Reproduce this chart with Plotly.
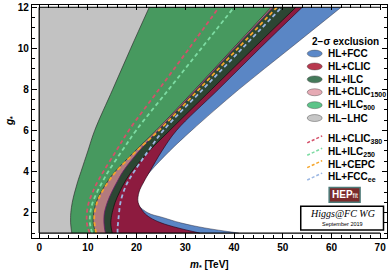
import plotly.graph_objects as go

# ---------------- data ----------------
g_star = [1.0, 1.25, 1.5, 1.75, 2.0, 2.5, 3.0, 3.5, 4.0, 5.0, 6.0, 8.0, 10.0, 12.0]

m_hl_fcc = [41.0, 34.0, 29.0, 25.5, 22.2, 20.0, 20.2, 21.2, 22.8, 26.8, 31.3, 41.0, 51.5, 62.0]
m_hl_clic = [33.0, 28.5, 25.0, 22.8, 21.5, 20.3, 20.5, 21.5, 22.7, 25.2, 28.2, 36.8, 45.3, 54.0]
m_hl_ilc = [15.0, 14.8, 14.7, 14.8, 15.0, 15.6, 16.5, 17.6, 19.0, 22.6, 26.8, 35.4, 44.0, 52.7]
m_hl_clic1500 = [13.6, 13.4, 13.3, 13.3, 13.4, 14.0, 14.9, 16.0, 17.2, 20.5, 24.4, 32.3, 40.1, 48.0]
m_hl_ilc500 = [11.6, 11.3, 11.1, 11.1, 11.2, 11.7, 12.7, 14.0, 15.6, 19.7, 24.0, 32.0, 39.8, 47.6]
m_hl_lhc = [6.7, 6.55, 6.45, 6.45, 6.5, 6.8, 7.3, 7.9, 8.6, 10.0, 11.4, 15.1, 18.8, 22.6]

m_hl_clic380 = [10.4, 10.0, 9.8, 9.75, 9.8, 10.2, 11.0, 12.0, 13.2, 15.8, 18.4, 24.6, 30.8, 36.9]
m_hl_ilc250 = [10.9, 10.6, 10.4, 10.4, 10.5, 11.0, 11.9, 13.0, 14.2, 17.0, 19.9, 26.6, 33.3, 40.0]
m_hl_cepc = [11.7, 11.5, 11.35, 11.3, 11.4, 11.9, 12.9, 14.2, 15.8, 20.0, 24.6, 32.8, 40.8, 48.8]
m_hl_fccee = [16.1, 16.1, 16.2, 16.3, 16.4, 16.7, 17.3, 18.2, 19.5, 22.4, 25.5, 33.6, 41.7, 49.8]

region_names = ["HL+FCC", "HL+CLIC", "HL+ILC", "HL+CLIC<sub>1500</sub>", "HL+ILC<sub>500</sub>", "HL\u2212LHC"]
line_names = ["HL+CLIC<sub>380</sub>", "HL+ILC<sub>250</sub>", "HL+CEPC", "HL+FCC<sub>ee</sub>"]

x_ticks = [0, 10, 20, 30, 40, 50, 60, 70]
y_ticks = [2, 4, 6, 8, 10, 12]

# ---------------- styles ----------------
region_series = [m_hl_fcc, m_hl_clic, m_hl_ilc, m_hl_clic1500, m_hl_ilc500, m_hl_lhc]
region_fill = ["#5a86c5", "#8d1b3f", "#2c4633", "#b37a7e", "#47995f", "#c2c2c2"]
region_edge = ["rgba(40,40,60,0.6)", "rgba(40,0,20,0.8)", "rgba(10,20,10,0.9)",
               "#6b1d6b", "rgba(20,40,25,0.8)", "rgba(40,40,40,0.8)"]
legend_fill = ["#5b88c8", "#b8394f", "#447a5a", "#e6aab4", "#5cc489", "#c6c6c6"]

line_series = [m_hl_clic380, m_hl_ilc250, m_hl_cepc, m_hl_fccee]
line_colors = ["#d4506a", "#7ddca3", "#f5a52a", "#9bb7e3"]

L, T, W, H = 32, 3, 356, 235
FIG_W, FIG_H = 390, 272


def pxx(x):
    return (x - L) / W


def pxy(y):
    return (T + H - y) / H


fig = go.Figure()

for m, fc, ec, name in zip(region_series, region_fill, region_edge, region_names):
    fig.add_trace(go.Scatter(
        x=m, y=g_star, mode="lines", fill="tozerox", fillcolor=fc,
        line=dict(color=ec, width=0.8, shape="spline"),
        name=name, showlegend=False, hoverinfo="skip"))

for m, c, name in zip(line_series, line_colors, line_names):
    fig.add_trace(go.Scatter(
        x=m, y=g_star, mode="lines",
        line=dict(color=c, width=1.8, dash="4px,3px", shape="spline"),
        name=name, showlegend=False, hoverinfo="skip"))

# inner plot-range boundary lines
for (x0, y0, x1, y1) in [(0, 1, 0, 12), (0, 1, 70, 1), (0, 12, 70, 12)]:
    fig.add_shape(type="line", x0=x0, y0=y0, x1=x1, y1=y1, xref="x", yref="y",
                  line=dict(color="black", width=1.2), layer="above")

shapes = []
annotations = []

bold_font = dict(family="Liberation Sans", size=10, color="black", weight="bold")

# legend header
annotations.append(dict(x=pxx(346), y=pxy(40), xref="paper", yref="paper",
                        text="2\u2212\u03c3 exclusion", showarrow=False,
                        xanchor="center", yanchor="middle", font=bold_font))

region_y = [52, 65, 78, 91, 104, 117]
for yy, fc, name in zip(region_y, legend_fill, region_names):
    shapes.append(dict(type="circle", xref="paper", yref="paper",
                       x0=pxx(308), x1=pxx(323), y0=pxy(yy + 3.5), y1=pxy(yy - 3.5),
                       fillcolor=fc, line=dict(color="rgba(60,60,60,0.7)", width=0.6)))
    annotations.append(dict(x=pxx(327), y=pxy(yy), xref="paper", yref="paper",
                            text=name, showarrow=False, xanchor="left", yanchor="middle",
                            font=bold_font))

line_y = [138.5, 151, 163.5, 176]
for yy, c, name in zip(line_y, line_colors, line_names):
    shapes.append(dict(type="line", xref="paper", yref="paper",
                       x0=pxx(308), x1=pxx(323), y0=pxy(yy + 3.5), y1=pxy(yy - 3.5),
                       line=dict(color=c, width=1.5, dash="3px,2px")))
    annotations.append(dict(x=pxx(327), y=pxy(yy), xref="paper", yref="paper",
                            text=name, showarrow=False, xanchor="left", yanchor="middle",
                            font=bold_font))

# HEPfit logo
shapes.append(dict(type="rect", xref="paper", yref="paper",
                   x0=pxx(330), x1=pxx(361), y0=pxy(202), y1=pxy(187),
                   fillcolor="#7a2b2b", line=dict(color="#4d7a78", width=1.5)))
annotations.append(dict(x=pxx(345.5), y=pxy(194.5), xref="paper", yref="paper",
                        text="<b>HEP</b><span style='font-size:7px'>fit</span>",
                        showarrow=False, xanchor="center", yanchor="middle",
                        font=dict(family="Liberation Sans", size=10, color="white")))

# Higgs@FC WG box
shapes.append(dict(type="rect", xref="paper", yref="paper",
                   x0=pxx(301.5), x1=pxx(384.5), y0=pxy(230), y1=pxy(206),
                   fillcolor="white", line=dict(color="black", width=1.5)))
annotations.append(dict(x=pxx(343), y=pxy(213.5), xref="paper", yref="paper",
                        text="<i>Higgs@FC WG</i>", showarrow=False,
                        xanchor="center", yanchor="middle",
                        font=dict(family="Liberation Serif", size=10, color="black")))
annotations.append(dict(x=pxx(343), y=pxy(224), xref="paper", yref="paper",
                        text="September 2019", showarrow=False,
                        xanchor="center", yanchor="middle",
                        font=dict(family="Liberation Sans", size=5.5, color="black")))

# axis titles
annotations.append(dict(x=pxx(210), y=pxy(265), xref="paper", yref="paper",
                        text="<i>m</i><sub>*</sub> [TeV]", showarrow=False,
                        xanchor="center", yanchor="middle", font=bold_font))
annotations.append(dict(x=pxx(10), y=pxy(120), xref="paper", yref="paper",
                        text="<i>g</i><sub>*</sub>", showarrow=False, textangle=-90,
                        xanchor="center", yanchor="middle", font=bold_font))

tickfont = dict(family="Liberation Sans", size=10, color="black", weight="bold")

fig.update_layout(
    width=FIG_W, height=FIG_H,
    margin=dict(l=L, r=FIG_W - L - W, t=T, b=FIG_H - T - H),
    paper_bgcolor="white", plot_bgcolor="white",
    showlegend=False,
    shapes=list(fig.layout.shapes) + shapes,
    annotations=annotations,
    xaxis=dict(range=[-1.47, 71.4], tickvals=x_ticks, ticks="inside", ticklen=5,
               tickwidth=1, tickcolor="black", showline=True, linecolor="black",
               linewidth=1.3, mirror="ticks", showgrid=False, zeroline=False,
               tickfont=tickfont, ticklabeloverflow="allow",
               minor=dict(dtick=2, tick0=0, ticks="inside", ticklen=2.5,
                          tickcolor="black", tickwidth=1, showgrid=False)),
    yaxis=dict(range=[0.76, 12.11], tickvals=y_ticks, ticks="inside", ticklen=5,
               tickwidth=1, tickcolor="black", showline=True, linecolor="black",
               linewidth=1.3, mirror="ticks", showgrid=False, zeroline=False,
               tickfont=tickfont, ticklabeloverflow="allow",
               minor=dict(dtick=0.5, tick0=0, ticks="inside", ticklen=2.5,
                          tickcolor="black", tickwidth=1, showgrid=False)),
)

fig.write_html("out.html", config={"displayModeBar": False},
               post_script="document.body.style.margin='0';document.body.style.padding='0';")
